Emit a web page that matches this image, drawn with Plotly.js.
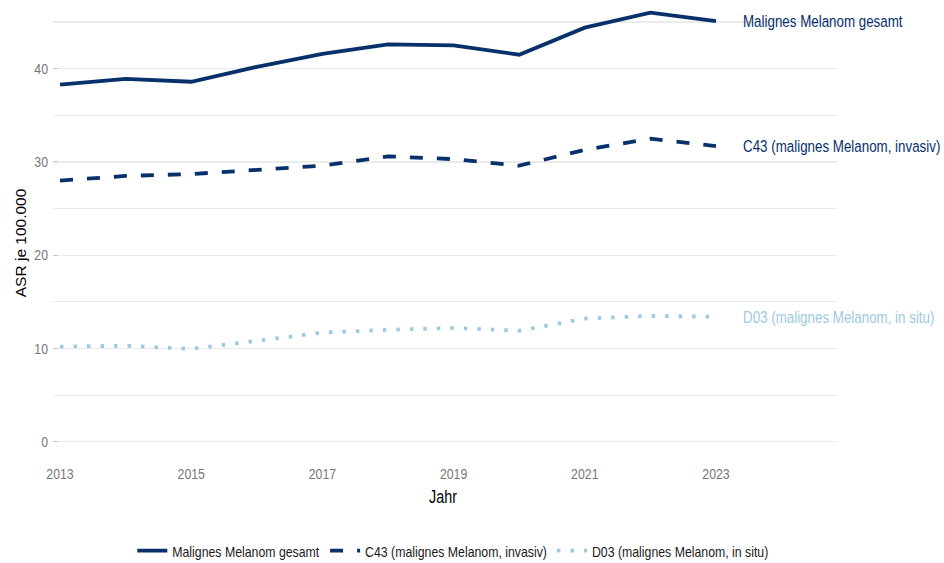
<!DOCTYPE html>
<html>
<head>
<meta charset="utf-8">
<script src="https://cdn.plot.ly/plotly-3.0.1.min.js"></script>
<style>html,body{margin:0;padding:0;background:#fff;}#chart{width:944px;height:563px;}</style>
</head>
<body>
<div id="chart"></div>
<script>
const years = [2013, 2014, 2015, 2016, 2017, 2018, 2019, 2020, 2021, 2022, 2023];
const gesamt = [38.3, 38.9, 38.6, 40.2, 41.6, 42.6, 42.5, 41.5, 44.4, 46.0, 45.1];
const c43 = [28.0, 28.5, 28.7, 29.1, 29.6, 30.6, 30.3, 29.6, 31.3, 32.5, 31.7];
const d03 = [10.2, 10.3, 9.95, 10.8, 11.7, 12.0, 12.2, 11.9, 13.2, 13.5, 13.4];
const seriesNames = ['Malignes Melanom gesamt', 'C43 (malignes Melanom, invasiv)', 'D03 (malignes Melanom, in situ)'];
const xTicks = [2013, 2015, 2017, 2019, 2021, 2023];

const FONT = '"Liberation Sans", Arial, sans-serif';
const SQ = 0.82; // horizontal squeeze of the reference's narrow text
const navy = '#08306b';
const light = '#9ecae1';

const traces = [
  {x: years, y: gesamt, name: seriesNames[0], mode: 'lines', line: {color: navy, width: 3.8}},
  {x: years, y: c43, name: seriesNames[1], mode: 'lines', line: {color: navy, width: 3.8, dash: '13px,14px'}},
  {x: years, y: d03, name: seriesNames[2], mode: 'lines', line: {color: light, width: 3.8, dash: '3.5px,10px'}}
];

const last = years.length - 1;
const annotations = [
  {x: 2023.38, y: gesamt[last], text: seriesNames[0], color: navy},
  {x: 2023.38, y: c43[last], text: seriesNames[1], color: navy},
  {x: 2023.38, y: d03[last], text: seriesNames[2], color: light}
].map(a => ({x: a.x, y: a.y, xref: 'x', yref: 'y', text: a.text, showarrow: false,
  xanchor: 'left', yanchor: 'middle', font: {family: FONT, size: 16.3, color: a.color}}));

annotations.push({xref: 'paper', yref: 'paper', x: -0.042, y: 0.48, text: 'ASR je 100.000',
  textangle: -90, showarrow: false, xanchor: 'center', yanchor: 'middle',
  font: {family: FONT, size: 15.5, color: '#000'}});
annotations.push({xref: 'paper', yref: 'paper', x: 0.497, y: -0.0742, text: 'Jahr',
  showarrow: false, xanchor: 'center', yanchor: 'middle',
  font: {family: FONT, size: 17.5, color: '#000'}});

const layout = {
  width: 944, height: 563,
  margin: {l: 53, r: 107, t: 5, b: 100, autoexpand: false},
  paper_bgcolor: '#fff', plot_bgcolor: '#fff',
  showlegend: true,
  legend: {orientation: 'h', x: 0.51, xanchor: 'center', y: -0.192, yanchor: 'middle',
    font: {family: FONT, size: 15, color: '#1a1a1a'}, traceorder: 'normal', itemwidth: 30},
  xaxis: {range: [2012.893, 2024.845], tickvals: xTicks, ticktext: xTicks.map(String),
    showgrid: false, zeroline: false, showline: false, ticks: '', ticklabelstandoff: 0,
    automargin: false, tickfont: {family: FONT, size: 15, color: '#777777'}},
  yaxis: {range: [-2.28, 46.83], tick0: 0, dtick: 10, showgrid: true, gridcolor: '#ebebeb', gridwidth: 1.2,
    zeroline: false, showline: false, ticks: 'inside', ticklen: 5, tickcolor: '#c8c8c8',
    ticklabelstandoff: 4, automargin: false,
    minor: {dtick: 5, tick0: 0, showgrid: true, gridcolor: '#ebebeb', gridwidth: 1.2},
    tickfont: {family: FONT, size: 15, color: '#777777'}},
  annotations: annotations
};

function squeezeText(t, keepLeft) {
  const w = t.getComputedTextLength();
  if (!w) return 0;
  if (keepLeft && t.getAttribute('text-anchor') === 'middle') {
    const x = parseFloat(t.getAttribute('x') || '0');
    t.setAttribute('x', x - w / 2);
    t.setAttribute('text-anchor', 'start');
    t.style.textAnchor = 'start';
  }
  t.setAttribute('textLength', (w * SQ).toFixed(2));
  t.setAttribute('lengthAdjust', 'spacingAndGlyphs');
  return w;
}

Plotly.newPlot('chart', traces, layout, {displayModeBar: false, staticPlot: true}).then(gd => {
  gd.querySelectorAll('.xtick text, .ytick text').forEach(t => squeezeText(t, false));
  gd.querySelectorAll('.annotation-text').forEach(t => {
    const txt = t.textContent;
    if (txt === 'ASR je 100.000') return;
    const left = seriesNames.includes(txt);
    const w = squeezeText(t, left);
    // shrink the annotation's (invisible) box to the squeezed text
    const rect = t.parentNode && t.parentNode.querySelector('rect.bg');
    if (rect && w) {
      const rw = parseFloat(rect.getAttribute('width') || '0');
      const nw = rw - w * (1 - SQ);
      if (!left) rect.setAttribute('x', parseFloat(rect.getAttribute('x') || '0') + (rw - nw) / 2);
      rect.setAttribute('width', nw);
    }
  });
  // legend: squeeze text and pull items together, keeping the legend centred
  const items = Array.from(gd.querySelectorAll('.legend g.traces'));
  const widths = items.map(g => {
    const t = g.querySelector('.legendtext');
    return t ? squeezeText(t, false) : 0;
  });
  const total = widths.reduce((a, b) => a + b, 0);
  let cum = 0;
  items.forEach((g, i) => {
    const tr = g.getAttribute('transform') || '';
    const m = tr.match(/translate\(\s*([-\d.]+)[ ,]+([-\d.]+)\s*\)/);
    if (m) {
      const nx = parseFloat(m[1]) - (1 - SQ) * cum + (1 - SQ) * total / 2;
      g.setAttribute('transform', 'translate(' + nx + ',' + m[2] + ')');
    }
    cum += widths[i];
  });
});
</script>
</body>
</html>
